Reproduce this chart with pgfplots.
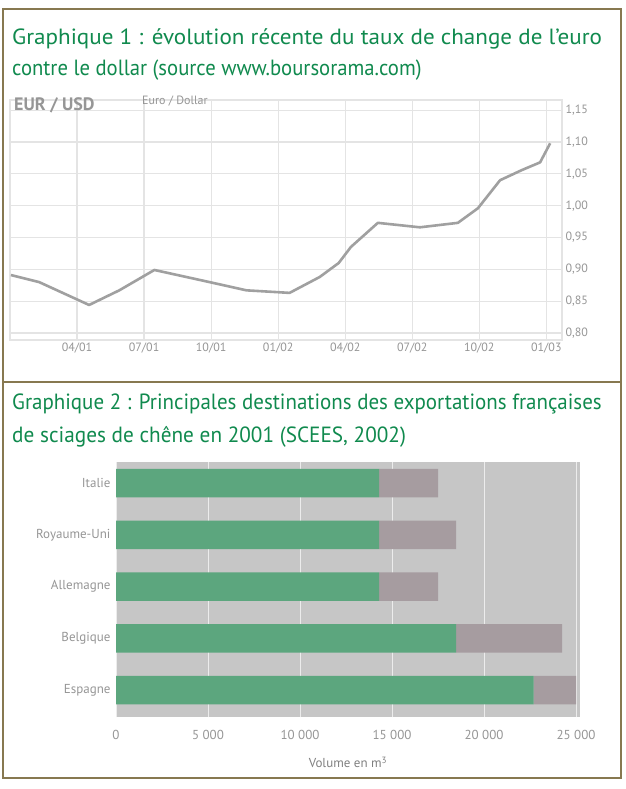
\documentclass[border=0pt]{standalone}
\usepackage{fontspec}
\setmainfont{PT Sans}
\usepackage{graphicx}
\usepackage{pgfplots}
\pgfplotsset{compat=1.18}
\definecolor{titlegreen}{RGB}{16,138,78}
\definecolor{framecol}{RGB}{135,120,80}
\definecolor{bargreen}{RGB}{92,166,126}
\definecolor{barmauve}{RGB}{166,156,160}
\definecolor{wall}{RGB}{198,198,198}
\definecolor{linegray}{RGB}{160,160,160}
\definecolor{labgray}{RGB}{150,150,150}
\definecolor{gridgray}{RGB}{228,228,228}
\begin{document}
\begin{tikzpicture}[x=1pt,y=1pt]
\fill[white] (0,0) rectangle (625,789);

% ---------- chart 1 ----------
\begin{axis}[
  at={(10pt,689pt)}, anchor=north west,
  scale only axis, width=552pt, height=240pt,
  xmin=0, xmax=24.7, ymin=0.789, ymax=1.166,
  xtick={3,6,9,12,15,18,21,24},
  xticklabels={04/01,07/01,10/01,01/02,04/02,07/02,10/02,01/03},
  ytick={0.80,0.85,0.90,0.95,1.00,1.05,1.10,1.15},
  yticklabel pos=right,
  /pgf/number format/.cd, fixed, fixed zerofill, precision=2, use comma, assume math mode=true,
  /pgfplots/.cd,
  tick style={draw=none},
  ymajorgrids, xmajorgrids,
  major grid style={gridgray, line width=1.2pt},
  axis line style={draw=gridgray, line width=1.2pt},
  ticklabel style={font=\fontsize{12}{14}\selectfont, text=labgray},
  xticklabel style={yshift=1pt},
]
\addplot[linegray, line width=2.6pt, line join=round] coordinates {
(0.04,0.891)(1.30,0.880)(3.54,0.844)(4.89,0.867)(6.46,0.899)(8.92,0.880)
(10.58,0.867)(12.51,0.863)(13.86,0.888)(14.71,0.910)(15.25,0.935)(16.46,0.973)
(18.34,0.966)(20.04,0.973)(20.94,0.996)(21.93,1.040)(22.91,1.056)(23.72,1.068)(24.17,1.098)
};
\end{axis}
\node[anchor=north west, inner sep=0, text=labgray, font=\fontsize{18}{20}\bfseries\selectfont] at (14,692) {EUR / USD};
\node[anchor=north west, inner sep=0, text=labgray, font=\fontsize{12}{14}\selectfont] at (142,693) {Euro / Dollar};

% ---------- chart 2 ----------
\begin{axis}[
  at={(116pt,327pt)}, anchor=north west,
  scale only axis, width=464pt, height=255pt,
  xbar stacked, bar width=0.55,
  xmin=0, xmax=25217, ymin=-0.52, ymax=4.41,
  scaled x ticks=false,
  axis background/.style={fill=wall},
  xtick={0,5000,10000,15000,20000,25000},
  xticklabels={0,5 000,10 000,15 000,20 000,25 000},
  ytick={0,1,2,3,4},
  yticklabels={Espagne,Belgique,Allemagne,Royaume-Uni,Italie},
  tick style={draw=none},
  xmajorgrids, major grid style={draw=white!85!gray, line width=0.8pt},
  axis line style={draw=none},
  ticklabel style={font=\fontsize{13}{15}\selectfont, text=labgray},
  yticklabel style={xshift=-2pt},
  xticklabel style={yshift=-10pt},
  xlabel={Volume en m\textsuperscript{3}},
  xlabel style={font=\fontsize{13}{15}\selectfont, text=gray, yshift=-10pt},
]
\addplot[fill=bargreen, draw=none] coordinates {(22700,0)(18480,1)(14300,2)(14300,3)(14300,4)};
\addplot[fill=barmauve, draw=none] coordinates {(2300,0)(5760,1)(3200,2)(4180,3)(3200,4)};
\end{axis}

% ---------- frame and titles ----------
\draw[framecol, line width=2.5pt] (3,780) rectangle (621,11);
\draw[framecol, line width=2.5pt] (3,407) -- (621,407);
\node[anchor=base west, inner sep=0, text=titlegreen, font=\fontsize{22}{26}\selectfont] at (12,744) {\scalebox{1.05}[1]{Graphique 1 : évolution récente du taux de change de l’euro}};
\node[anchor=base west, inner sep=0, text=titlegreen, font=\fontsize{22}{26}\selectfont] at (12,713) {\scalebox{0.94}[1]{contre le dollar (source www.boursorama.com)}};
\node[anchor=base west, inner sep=0, text=titlegreen, font=\fontsize{22}{26}\selectfont] at (12,379) {\scalebox{0.953}[1]{Graphique 2 : Principales destinations des exportations françaises}};
\node[anchor=base west, inner sep=0, text=titlegreen, font=\fontsize{22}{26}\selectfont] at (12,346) {\scalebox{0.966}[1]{de sciages de chêne en 2001 (SCEES, 2002)}};
\pgfresetboundingbox
\path[use as bounding box] (0,0) rectangle (625,789);
\end{tikzpicture}
\end{document}
